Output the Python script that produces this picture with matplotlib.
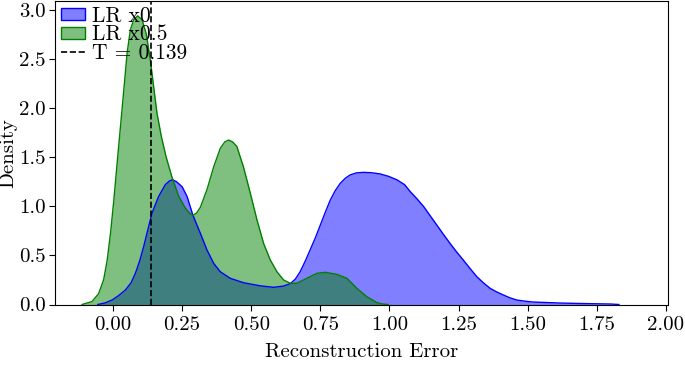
import numpy as np
import matplotlib
matplotlib.use("Agg")
import matplotlib.pyplot as plt
from matplotlib.patches import Patch
from matplotlib.lines import Line2D

plt.rcParams['font.family'] = 'serif'
plt.rcParams['font.serif'] = ['cmr10']
plt.rcParams['mathtext.fontset'] = 'cm'
plt.rcParams['axes.unicode_minus'] = False
plt.rcParams['axes.formatter.use_mathtext'] = True

# Density curves
blue_x = [-0.055, -0.03, -0.003, 0.02, 0.045, 0.065, 0.081, 0.096, 0.111, 0.126, 0.141,
          0.165, 0.189, 0.205, 0.216, 0.230, 0.250, 0.268, 0.289, 0.316, 0.340, 0.364,
          0.388, 0.424, 0.472, 0.533, 0.581, 0.617, 0.641, 0.660, 0.677, 0.695, 0.713,
          0.732, 0.750, 0.768, 0.786, 0.804, 0.822, 0.840, 0.858, 0.880, 0.906, 0.935,
          0.966, 0.997, 1.027, 1.055, 1.075, 1.100, 1.123, 1.147, 1.171, 1.195, 1.219,
          1.243, 1.267, 1.292, 1.316, 1.340, 1.364, 1.388, 1.412, 1.436, 1.460, 1.490,
          1.520, 1.570, 1.617, 1.680, 1.737, 1.800, 1.830]
blue_y = [0.0, 0.015, 0.046, 0.09, 0.148, 0.22, 0.318, 0.44, 0.59, 0.76, 0.93,
          1.10, 1.22, 1.26, 1.27, 1.25, 1.20, 1.10, 0.91, 0.725, 0.555, 0.42,
          0.334, 0.267, 0.222, 0.19, 0.175, 0.188, 0.212, 0.26, 0.334, 0.44, 0.555,
          0.68, 0.81, 0.94, 1.064, 1.16, 1.234, 1.285, 1.32, 1.340, 1.346, 1.342,
          1.33, 1.305, 1.27, 1.22, 1.15, 1.075, 1.0, 0.905, 0.81, 0.715, 0.623,
          0.535, 0.453, 0.365, 0.283, 0.22, 0.165, 0.128, 0.097, 0.068, 0.046, 0.034,
          0.025, 0.02, 0.015, 0.011, 0.008, 0.005, 0.0]

green_x = [-0.112, -0.076, -0.052, -0.034, -0.021, -0.009, 0.003, 0.015, 0.027, 0.039,
           0.051, 0.063, 0.075, 0.089, 0.105, 0.120, 0.135, 0.147, 0.159, 0.175, 0.192,
           0.213, 0.238, 0.262, 0.277, 0.289, 0.302, 0.316, 0.340, 0.364, 0.388, 0.404,
           0.418, 0.433, 0.448, 0.472, 0.497, 0.521, 0.545, 0.569, 0.593, 0.617, 0.641,
           0.665, 0.701, 0.738, 0.768, 0.810, 0.846, 0.882, 0.918, 0.954, 0.975, 0.995]
green_y = [0.0, 0.03, 0.11, 0.25, 0.45, 0.725, 1.06, 1.44, 1.81, 2.18,
           2.56, 2.80, 2.90, 2.94, 2.90, 2.76, 2.49, 2.22, 1.95, 1.71, 1.505,
           1.30, 1.10, 0.98, 0.93, 0.91, 0.93, 0.99, 1.17, 1.40, 1.59, 1.655,
           1.675, 1.655, 1.61, 1.40, 1.13, 0.86, 0.62, 0.453, 0.334, 0.25, 0.216,
           0.216, 0.267, 0.318, 0.328, 0.307, 0.267, 0.165, 0.08, 0.02, 0.005, 0.0]

labels = ["LR x0", "LR x0.5"]
threshold = 0.139

fig, ax = plt.subplots(figsize=(6.85, 3.66), dpi=100)
fig.subplots_adjust(left=0.081, right=0.975, bottom=0.168, top=0.997)

ax.fill_between(blue_x, blue_y, color='blue', alpha=0.5, linewidth=0)
ax.plot(blue_x, blue_y, color='blue', lw=1.0, solid_joinstyle='round')
ax.fill_between(green_x, green_y, color='green', alpha=0.5, linewidth=0)
ax.plot(green_x, green_y, color='green', lw=1.0, solid_joinstyle='round')
ax.axvline(threshold, color='black', ls='--', lw=1.2)

ax.set_xlim(-0.208, 2.007)
ax.set_ylim(0, 3.09)
ax.set_xticks([0, 0.25, 0.5, 0.75, 1.0, 1.25, 1.5, 1.75, 2.0])
ax.set_xticklabels(["0.00", "0.25", "0.50", "0.75", "1.00", "1.25", "1.50", "1.75", "2.00"])
ax.set_yticks([0, 0.5, 1.0, 1.5, 2.0, 2.5, 3.0])
ax.set_yticklabels(["0.0", "0.5", "1.0", "1.5", "2.0", "2.5", "3.0"])
ax.tick_params(axis='x', labelsize=15, length=4, width=0.8, pad=4)
ax.tick_params(axis='y', labelsize=15, length=4, width=0.8, pad=3)
ax.set_xlabel("Reconstruction Error", fontsize=15, labelpad=7)
ax.set_ylabel("Density", fontsize=15, labelpad=1)

handles = [Patch(facecolor=(0, 0, 1, 0.5), edgecolor='blue'),
           Patch(facecolor=(0, 0.5, 0, 0.5), edgecolor='green'),
           Line2D([0], [0], color='black', ls='--', lw=1.2)]
ax.legend(handles, labels + ["T = %.3f" % threshold], loc='upper left',
          frameon=False, fontsize=15.5, borderaxespad=0.0, borderpad=0.25,
          handlelength=1.1, handleheight=0.5, handletextpad=0.35, labelspacing=-0.05)

fig.savefig("out.png", dpi=100)
